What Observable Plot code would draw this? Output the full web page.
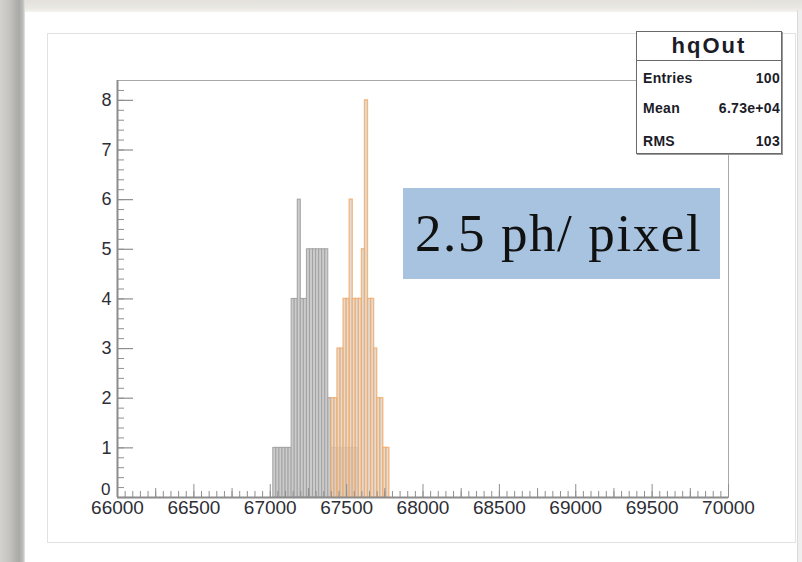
<!DOCTYPE html>
<html>
<head>
<meta charset="utf-8">
<script src="https://cdn.jsdelivr.net/npm/d3@7"></script>
<script src="https://cdn.jsdelivr.net/npm/@observablehq/plot@0.6"></script>
<style>
  html, body { margin: 0; padding: 0; }
  body { width: 802px; height: 562px; overflow: hidden; background: #ffffff; position: relative;
         font-family: "Liberation Sans", Arial, sans-serif; }
  #topband { position: absolute; left: 0; top: 0; width: 802px; height: 12px;
             background: linear-gradient(to bottom, #e4e1db, #ebe9e4 70%, #f4f3f0); }
  #leftband { position: absolute; left: 0; top: 0; width: 25px; height: 562px;
              background: linear-gradient(to right, #d3d2cf 0px, #c3c2bf 10px, #a9a9a7 19px, #bdbdbb 23px, #e6e6e6 25px); }
  #rightline { position: absolute; left: 797px; top: 10px; width: 5px; height: 552px; background: #efefef; border-left: 1px solid #dadada; }
  #canvasframe { position: absolute; left: 47px; top: 33px; width: 747px; height: 508px; border: 1px solid #e2e2e2; }
  #chart { position: absolute; left: 0; top: 0; }
  #stats { position: absolute; left: 636px; top: 31px; width: 144px; height: 121px; border: 1px solid #6a6a6a;
           background: #ffffff; box-shadow: 1px 1px 0 #9a9a9a; color: #1c1c28; }
  #stats .title { height: 28px; border-bottom: 1px solid #6a6a6a; text-align: center; font-weight: bold;
                  font-size: 22px; line-height: 28px; letter-spacing: 2px; }
  #stats .row { position: absolute; left: 6px; right: 1px; height: 14px; line-height: 14px; font-weight: bold;
                font-size: 14px; display: flex; justify-content: space-between; letter-spacing: 0.3px; }
  #label { position: absolute; left: 403px; top: 188px; width: 317px; height: 91px; background: #a7c3e0;
           font-family: "Liberation Serif", "Times New Roman", serif; font-size: 53px; line-height: 91px;
           color: #111111; letter-spacing: 1.6px; box-sizing: border-box; padding-left: 12px; white-space: nowrap; }
</style>
</head>
<body>
<div id="topband"></div>
<div id="leftband"></div>
<div id="rightline"></div>
<div id="canvasframe"></div>
<div id="chart"></div>
<div id="stats"></div>
<div id="label"></div>
<script>
// ---- data ----
const binWidth = 20;
const greyBinStarts = [67020, 67040, 67060, 67080, 67100, 67120, 67140, 67160, 67180, 67200,
                       67220, 67240, 67260, 67280, 67300, 67320, 67340, 67360, 67380, 67400,
                       67420, 67440, 67460, 67480, 67500, 67520, 67540, 67560];
const greyCounts    = [1, 1, 1, 1, 1, 1, 4, 4, 6, 4,
                       4, 5, 5, 5, 5, 5, 5, 5, 2, 1,
                       1, 1, 1, 1, 1, 1, 1, 1];
const orangeBinStarts = [67400, 67420, 67440, 67460, 67480, 67500, 67520, 67540, 67560, 67580,
                         67600, 67620, 67640, 67660, 67680, 67700, 67720, 67740, 67760];
const orangeCounts    = [2, 2, 3, 3, 4, 4, 6, 4, 4, 4,
                         5, 8, 4, 4, 3, 2, 2, 1, 1];

const xTickLabels = [66000, 66500, 67000, 67500, 68000, 68500, 69000, 69500, 70000];
const yTickLabels = [0, 1, 2, 3, 4, 5, 6, 7, 8];
const xDomain = [66000, 70000];
const yDomain = [0, 8.4];

const statsTitle = "hqOut";
const statsNames = ["Entries", "Mean", "RMS"];
const statsValues = ["100", "6.73e+04", "103"];
const annotation = "2.5 ph/ pixel";

// ---- build tables ----
const grey = greyBinStarts.map((s, i) => ({x1: s, x2: s + binWidth, count: greyCounts[i]}));
const orange = orangeBinStarts.map((s, i) => ({x1: s, x2: s + binWidth, count: orangeCounts[i]}));
const xMinor = d3.range(xDomain[0], xDomain[1] + 1, 50);
const xMid = d3.range(xDomain[0] + 250, xDomain[1], 500);
const yMinor = d3.range(0, 8.4, 0.2);

const W = 802, H = 562, mL = 117, mR = 74, mT = 80, mB = 65;
const innerH = H - mT - mB, innerW = W - mL - mR;

const plot = Plot.plot({
  width: W, height: H,
  marginLeft: mL, marginRight: mR, marginTop: mT, marginBottom: mB,
  x: {domain: xDomain, label: null},
  y: {domain: yDomain, label: null},
  style: {background: "transparent", fontFamily: "Liberation Sans, Arial, sans-serif", overflow: "visible"},
  marks: [
    Plot.rectY(grey, {x1: "x1", x2: "x2", y: "count", fill: "#cbcbcb", stroke: "#a2a2a2", strokeWidth: 1}),
    Plot.rectY(orange, {x1: "x1", x2: "x2", y: "count", fill: "#d6d0cb", fillOpacity: 0.75,
                        stroke: "#f2ac6c", strokeWidth: 1.3, strokeOpacity: 0.85}),
    Plot.frame({stroke: "#a8a8a8", strokeWidth: 1}),
    // x ticks drawn inside the frame (ROOT style)
    Plot.tickX(xMinor, {x: d => d, insetTop: innerH - 6, stroke: "#8f8f8f", strokeWidth: 1}),
    Plot.tickX(xMid, {x: d => d, insetTop: innerH - 9, stroke: "#8f8f8f", strokeWidth: 1}),
    Plot.tickX(xTickLabels, {x: d => d, insetTop: innerH - 13, stroke: "#8f8f8f", strokeWidth: 1}),
    // y ticks inside the frame
    Plot.tickY(yMinor, {y: d => d, insetRight: innerW - 7, stroke: "#8f8f8f", strokeWidth: 1}),
    Plot.tickY(yTickLabels, {y: d => d, insetRight: innerW - 16, stroke: "#8f8f8f", strokeWidth: 1.2}),
    Plot.ruleY([0], {stroke: "#8c8c8c", strokeWidth: 2}),
    Plot.ruleX([xDomain[0]], {stroke: "#8c8c8c", strokeWidth: 2}),
    Plot.axisX(xTickLabels, {tickSize: 0, tickPadding: 3, tickFormat: d3.format("d"),
                             fontSize: 19, fill: "#2e2e36"}),
    Plot.axisY(yTickLabels.filter(d => d > 0), {tickSize: 0, tickPadding: 6, tickFormat: d3.format("d"),
                             fontSize: 18, fill: "#2e2e36"}),
    // the "0" label sits just above the x labels, as in the reference
    Plot.axisY(yTickLabels.filter(d => d === 0), {tickSize: 0, tickPadding: 7, tickFormat: d3.format("d"),
                             fontSize: 17, fill: "#2e2e36", dy: -8})
  ]
});
document.getElementById("chart").appendChild(plot);

// stats box
const stats = document.getElementById("stats");
const t = document.createElement("div");
t.className = "title";
t.textContent = statsTitle;
stats.appendChild(t);
const rowTops = [39, 69, 102];
statsNames.forEach((n, i) => {
  const r = document.createElement("div");
  r.className = "row";
  r.style.top = rowTops[i] + "px";
  const a = document.createElement("span"); a.textContent = n;
  const b = document.createElement("span"); b.textContent = statsValues[i];
  r.appendChild(a); r.appendChild(b);
  stats.appendChild(r);
});

document.getElementById("label").textContent = annotation;
</script>
</body>
</html>
